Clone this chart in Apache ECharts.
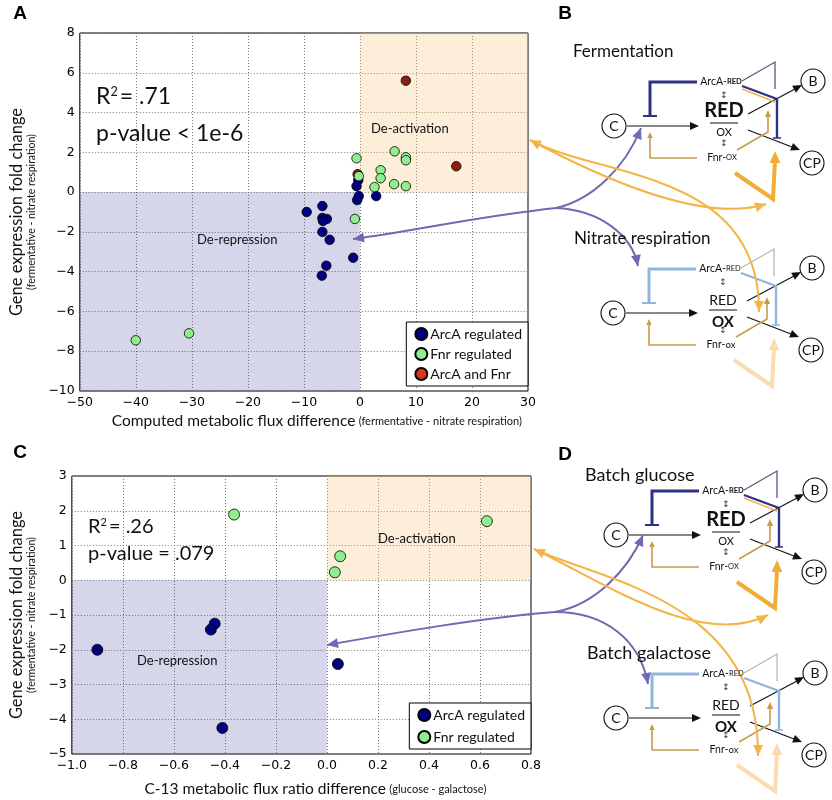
<!DOCTYPE html>
<html>
<head>
<meta charset="utf-8">
<script src="https://cdn.jsdelivr.net/npm/echarts@6/dist/echarts.min.js"></script>
<style>
  html, body { margin: 0; padding: 0; background: #fff; }
  #chart { width: 832px; height: 800px; }
</style>
</head>
<body>
<div id="chart"></div>
<script>
// panel A: computed flux difference vs expression fold change
const arcaA = [[-9.5, -1.0], [-6.7, -0.7], [-6.7, -1.3], [-5.9, -1.35], [-6.6, -1.45], [-6.7, -2.0],
  [-5.4, -2.4], [-6.0, -3.7], [-6.8, -4.2], [-1.2, -3.3], [-0.3, 0.6], [-0.6, 0.3], [-0.2, -0.2],
  [-0.5, -0.4], [2.9, -0.2]]
const fnrA = [[-0.6, 1.7], [6.2, 2.05], [8.2, 1.75], [8.2, 1.6], [3.7, 1.1], [3.7, 0.7], [2.6, 0.25],
  [6.1, 0.4], [8.2, 0.3], [-0.9, -1.35], [-40.0, -7.45], [-30.5, -7.1]]
const bothA = [[8.2, 5.6], [17.2, 1.3], [-0.4, 0.9]]
const fnrA2 = [[-0.2, 0.8]]

// panel C: C-13 flux ratio difference vs expression fold change
const arcaC = [[-0.9, -2.0], [-0.44, -1.25], [-0.455, -1.42], [-0.41, -4.25], [0.043, -2.41]]
const fnrC = [[-0.364, 1.89], [0.627, 1.7], [0.052, 0.69], [0.031, 0.23]]

// axis ranges [min, max, step]
const xRangeA = [-50, 30, 10]
const yRangeA = [-10, 8, 2]
const xRangeC = [-1, 0.8, 0.2]
const yRangeC = [-5, 3, 1]

const legendNames = ['ArcA regulated', 'Fnr regulated', 'ArcA and Fnr']

const NAVY = '#000080'
const GREEN = '#90ee90'
const DARKRED = '#8e1f0c'
const FONT = 'Lato, "Open Sans", sans-serif'
const PURPLE = '#7367b4'
const ORANGE = '#f4b548'

const minus = s => String(s).replace('-', '\u2212')

const chart = echarts.init(document.getElementById('chart'))

const tickLabel = { color: '#000', fontFamily: 'DejaVu Sans', fontSize: 12.5 }
const gridLine = { show: true, lineStyle: { color: '#7a7a7a', type: [1, 2], width: 1 } }

const makeX = (r, idx, fmt, name, pad, gap) => ({
  type: 'value', gridIndex: idx, min: r[0], max: r[1], interval: r[2],
  axisLine: { show: false, onZero: false }, axisTick: { show: false },
  axisLabel: Object.assign({ margin: 5, formatter: fmt }, tickLabel),
  splitLine: gridLine,
  name, nameLocation: 'middle', nameGap: gap,
  nameTextStyle: {
    padding: [0, 0, 0, pad],
    rich: {
      a: { fontFamily: FONT, fontSize: 15.5, color: '#111' },
      b: { fontFamily: FONT, fontSize: 11, color: '#111' }
    }
  }
})
const makeY = (r, idx, fmt) => ({
  type: 'value', gridIndex: idx, min: r[0], max: r[1], interval: r[2],
  axisLine: { show: false, onZero: false }, axisTick: { show: false },
  axisLabel: Object.assign({ margin: 5, formatter: fmt }, tickLabel),
  splitLine: gridLine,
  name: '{a|Gene expression fold change}\n{b|(fermentative - nitrate respiration)}',
  nameLocation: 'middle', nameRotate: 90, nameGap: 26,
  nameTextStyle: {
    align: 'center',
    rich: {
      a: { fontFamily: FONT, fontSize: 16.5, color: '#111', lineHeight: 18, align: 'center' },
      b: { fontFamily: FONT, fontSize: 10.5, color: '#111', lineHeight: 13, align: 'center' }
    }
  }
})

const dot = (color, size) => ({
  type: 'scatter', symbolSize: size, z: 3,
  itemStyle: { color, borderColor: '#000', borderWidth: 0.8, opacity: 1 },
  emphasis: { disabled: true }
})

const region = (idx, z, color, area) => ({
  type: 'scatter', xAxisIndex: idx, yAxisIndex: idx, data: [], z, silent: true,
  markArea: { silent: true, itemStyle: { color }, data: [[{ coord: area[0] }, { coord: area[1] }]] }
})

// ---------- diagrams (panels B and D) ----------
const g = []
const txt = (p, t, size, opt) => g.push({
  type: 'text', x: p[0], y: p[1], z: 60,
  style: Object.assign({ text: t, fontFamily: FONT, fontSize: size, fill: '#111', align: 'center', verticalAlign: 'middle' }, opt || {})
})
const pl = (pts, color, w, z) => g.push({
  type: 'polyline', z: z || 50, shape: { points: pts },
  style: { stroke: color, lineWidth: w, fill: null, lineJoin: 'miter', lineCap: 'butt' }
})
const head = (tip, from, size, color, z) => {
  const dx = tip[0] - from[0], dy = tip[1] - from[1], L = Math.hypot(dx, dy)
  const ux = dx / L, uy = dy / L
  const bx = tip[0] - ux * size, by = tip[1] - uy * size, k = size * 0.45
  g.push({ type: 'polygon', z: z || 52, shape: { points: [tip, [bx - uy * k, by + ux * k], [bx + uy * k, by - ux * k]] }, style: { fill: color } })
}
const curve = (p0, p1, p2, p3, color, endHead) => {
  g.push({
    type: 'bezierCurve', z: 55,
    shape: { x1: p0[0], y1: p0[1], cpx1: p1[0], cpy1: p1[1], cpx2: p2[0], cpy2: p2[1], x2: p3[0], y2: p3[1] },
    style: { stroke: color, lineWidth: 2, fill: null }
  })
  if (endHead === 'end' || endHead === 'both') head(p3, p2, 11, color, 56)
  if (endHead === 'start' || endHead === 'both') head(p0, p1, 11, color, 56)
}
const circ = (p, t) => {
  g.push({ type: 'circle', z: 50, shape: { cx: p[0], cy: p[1], r: 12 }, style: { fill: '#fff', stroke: '#111', lineWidth: 1.1 } })
  txt(p, t, 14)
}

function diagram (o, title, tOff, tSize, red) {
  const P = (x, y) => [o[0] + x, o[1] + y]
  const block = red ? '#2e3286' : '#93b4de'
  const thin = red ? '#5d5780' : '#bcb6a8'
  const vee = red ? '#f2ad35' : '#fadcb0'
  const fnr = '#c99a4c'
  txt(P(tOff[0], tOff[1]), title, tSize, { align: 'left' })
  circ(P(-110, 3), 'C')
  circ(P(89, -42), 'B')
  circ(P(88, 40), 'CP')
  // carbon flux into redox pool, and out to biomass / products
  pl([P(-97, 3), P(-33, 3)], '#111', 1.1)
  head(P(-25, 3), P(-97, 3), 9, '#111')
  pl([P(24, -9), P(71, -34)], '#111', 1.1)
  head(P(78, -38), P(24, -9), 9, '#111')
  pl([P(24, 7), P(68, 24)], '#111', 1.1)
  head(P(76, 27), P(24, 7), 9, '#111')
  // ArcA repression of carbon uptake
  pl([P(-27, -41), P(-74, -41), P(-74, -7)], block, 3)
  pl([P(-81, -7), P(-67, -7)], block, 2)
  // Fnr activation
  pl([P(-27, 35), P(-74, 35), P(-74, 15)], fnr, 1.6)
  head(P(-74, 9), P(-74, 20), 6, fnr)
  // right side regulation
  pl([P(18, -42), P(51, -61), P(51, -34)], thin, 1.3)
  if (red) pl([P(18, -34), P(51, -21)], ORANGE, 1.4)
  pl([P(18, -37), P(53, -24), P(53, 15)], block, 2.4)
  pl([P(49, 15), P(57, 15)], block, 1.5)
  pl([P(13, 27), P(44, 9), P(44, -6)], fnr, 1.6)
  head(P(44, -13), P(44, 0), 7, fnr)
  pl([P(11, 50), P(49, 76), P(51, 38)], vee, 4)
  head(P(51, 28), P(51, 76), 12, vee)
  // redox labels
  const small = red ? { fontSize: 7.5, fontWeight: 'bold' } : { fontSize: 7.5 }
  txt(P(-3, -41), '{a|ArcA-}{b|RED}', 10.5, { rich: { a: { fontSize: 10.5, fontFamily: FONT, fill: '#111' }, b: Object.assign({ fontFamily: FONT, fill: '#111' }, small) } })
  txt(P(0, -27), '\u2195', 9, { fontFamily: 'DejaVu Sans', fill: '#333' })
  txt(P(-2, 35), red ? '{a|Fnr-}{b|OX}' : '{a|Fnr-}{b|ox}', 10.5, { rich: { a: { fontSize: 10.5, fontFamily: FONT, fill: '#111' }, b: { fontSize: red ? 7.5 : 9.5, fontFamily: FONT, fill: '#111' } } })
  txt(P(0, 21), '\u2195', 9, { fontFamily: 'DejaVu Sans', fill: '#333' })
  pl([P(-14, 0), P(14, 0)], '#111', 1)
  if (red) {
    txt(P(0, -12), 'RED', 20, { fontWeight: 'bold' })
    txt(P(0, 9), 'OX', 11)
  } else {
    txt(P(0, -10), 'RED', 14)
    txt(P(0, 12), 'OX', 15, { fontWeight: 'bold' })
  }
}

diagram([724, 123], 'Fermentation', [-151, -71], 17, true)
diagram([723, 310], 'Nitrate respiration', [-149, -71], 17, false)
diagram([726, 532], 'Batch glucose', [-141, -57], 18, true)
diagram([726, 715], 'Batch galactose', [-139, -62], 18, false)

// connecting arrows, top half
curve([556, 208], [480, 216], [420, 230], [353, 239], PURPLE, 'end')
curve([556, 208], [592, 200], [625, 168], [641, 128], PURPLE, 'end')
curve([556, 208], [600, 210], [632, 235], [638, 266], PURPLE, 'end')
curve([530, 140], [590, 172], [700, 225], [766, 204], ORANGE, 'both')
curve([530, 140], [600, 178], [760, 170], [759, 312], ORANGE, 'end')
// connecting arrows, bottom half
curve([555, 612], [480, 618], [400, 632], [327, 645], PURPLE, 'end')
curve([555, 612], [595, 605], [628, 570], [643, 535], PURPLE, 'end')
curve([555, 612], [605, 612], [640, 640], [648, 684], PURPLE, 'end')
curve([534, 549], [600, 580], [700, 650], [768, 615], ORANGE, 'both')
curve([534, 549], [600, 580], [760, 600], [758, 756], ORANGE, 'end')

// panel letters and annotations
const letter = (x, y, t) => g.push({ type: 'text', x, y, z: 60, style: { text: t, fontFamily: '"Liberation Sans", Arial, sans-serif', fontWeight: 'bold', fontSize: 19, fill: '#000', align: 'center', verticalAlign: 'middle' } })
letter(20, 14, 'A'); letter(565, 14, 'B'); letter(20, 453, 'C'); letter(565, 455, 'D')

const stat = (x, y, t, size) => g.push({ type: 'text', x, y, z: 60, style: { text: t, fontFamily: FONT, fontSize: size, fill: '#111', align: 'left', verticalAlign: 'middle' } })
const rsq = (x, y, v, size) => g.push({
  type: 'text', x, y, z: 60,
  style: {
    text: '{a|R}{s|2}{a|= ' + v + '}', align: 'left', verticalAlign: 'middle',
    rich: { a: { fontFamily: FONT, fontSize: size, fill: '#111' }, s: { fontFamily: FONT, fontSize: size * 0.55, fill: '#111', verticalAlign: 'top', padding: [0, 2, 0, 0] } }
  }
})
rsq(96, 97, '.71', 23)
stat(96, 134, 'p-value < 1e-6', 23)
rsq(88, 527, '.26', 20)
stat(88, 554, 'p-value = .079', 20)
stat(371, 129, 'De-activation', 13)
stat(197, 240, 'De-repression', 13)
stat(378, 539, 'De-activation', 13)
stat(137, 661, 'De-repression', 13)

const legendBox = {
  orient: 'vertical', icon: 'circle', itemWidth: 12, itemHeight: 12, selectedMode: false,
  borderColor: '#000', borderWidth: 1, borderRadius: 0, backgroundColor: '#fff', z: 20,
  textStyle: { fontFamily: FONT, fontSize: 14, color: '#111', padding: [0, 0, 0, -2] }
}

chart.setOption({
  animation: false,
  grid: [
    { left: 66, top: 33, width: 462, height: 358, show: true, borderColor: '#000', borderWidth: 1 },
    { left: 65, top: 476, width: 466, height: 278, show: true, borderColor: '#000', borderWidth: 1 }
  ],
  xAxis: [
    makeX(xRangeA, 0, v => minus(v), '{a|Computed metabolic flux difference} {b|(fermentative - nitrate respiration)}', 26, 22),
    makeX(xRangeC, 1, v => minus((Math.abs(v) < 1e-9 ? 0 : v).toFixed(1)), '{a|C-13 metabolic flux ratio difference} {b|(glucose - galactose)}', 28, 27)
  ],
  yAxis: [
    makeY(yRangeA, 0, v => minus(v)),
    makeY(yRangeC, 1, v => minus(v))
  ],
  legend: [
    Object.assign({}, legendBox, {
      right: 304, top: 322, itemGap: 6, padding: [5, 6, 5, 8],
      data: [legendNames[0], legendNames[1], { name: legendNames[2], itemStyle: { color: '#e2321f' } }]
    }),
    Object.assign({}, legendBox, {
      right: 301, top: 703, itemGap: 8, padding: [5, 6, 5, 8],
      data: [legendNames[0], legendNames[1]]
    })
  ],
  series: [
    region(0, 1, 'rgba(250,200,130,0.3)', [[0, 0], [30, 8]]),
    region(1, 1, 'rgba(250,200,130,0.3)', [[0, 0], [0.8, 3]]),
    Object.assign(dot(NAVY, 9.5), { name: legendNames[0], xAxisIndex: 0, yAxisIndex: 0, data: arcaA }),
    Object.assign(dot(DARKRED, 9.5), { name: legendNames[2], xAxisIndex: 0, yAxisIndex: 0, data: bothA }),
    Object.assign(dot(GREEN, 9.5), { name: legendNames[1], xAxisIndex: 0, yAxisIndex: 0, data: fnrA.concat(fnrA2) }),
    Object.assign(dot(NAVY, 11), { name: legendNames[0], xAxisIndex: 1, yAxisIndex: 1, data: arcaC }),
    Object.assign(dot(GREEN, 11), { name: legendNames[1], xAxisIndex: 1, yAxisIndex: 1, data: fnrC }),
    region(0, 5, 'rgba(51,51,153,0.2)', [[-50, -10], [0, 0]]),
    region(1, 5, 'rgba(51,51,153,0.2)', [[-1, -5], [0, 0]])
  ],
  graphic: { elements: g }
})
</script>
</body>
</html>
